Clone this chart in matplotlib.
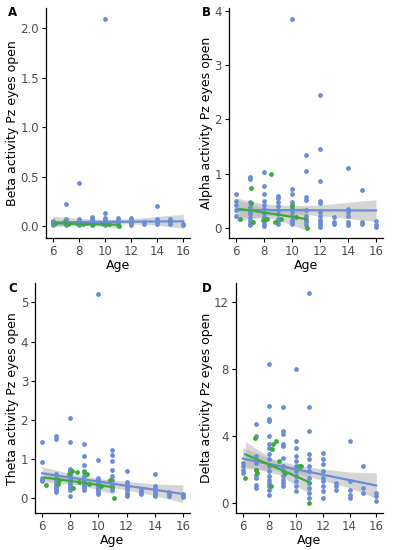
import numpy as np
import matplotlib
matplotlib.use("Agg")
import matplotlib.pyplot as plt

# ---------------------------
# DATA
# ---------------------------
# Panel A - Beta
beta_blue_age = [6]*5 + [7]*7 + [8]*7 + [9]*6 + [10]*8 + [11]*6 + [12]*5 + [13]*2 + [14]*4 + [15]*3 + [16]*2
beta_blue_val = [0.05, 0.04, 0.03, 0.02, 0.01,
                 0.22, 0.07, 0.05, 0.04, 0.03, 0.02, 0.01,
                 0.44, 0.07, 0.05, 0.04, 0.03, 0.02, 0.01,
                 0.09, 0.07, 0.05, 0.04, 0.02, 0.01,
                 2.09, 0.13, 0.08, 0.06, 0.05, 0.03, 0.02, 0.01,
                 0.08, 0.06, 0.04, 0.03, 0.02, 0.01,
                 0.08, 0.06, 0.04, 0.03, 0.01,
                 0.04, 0.02,
                 0.2, 0.07, 0.04, 0.02,
                 0.07, 0.04, 0.02,
                 0.02, 0.01]
beta_green_age = [6.2, 6.9, 7.2, 7.9, 8.3, 8.6, 9.1, 9.8, 10.3, 11.1]
beta_green_val = [0.03, 0.04, 0.02, 0.03, 0.02, 0.03, 0.02, 0.03, 0.02, 0.0]

# Panel B - Alpha
alpha_blue_age = [6]*5 + [7]*10 + [8]*11 + [9]*9 + [10]*11 + [11]*9 + [12]*11 + [13]*3 + [14]*6 + [15]*3 + [16]*3
alpha_blue_val = [0.63, 0.5, 0.42, 0.32, 0.22,
                  0.93, 0.9, 0.47, 0.38, 0.3, 0.25, 0.18, 0.12, 0.08, 0.05,
                  1.03, 0.78, 0.63, 0.5, 0.43, 0.35, 0.28, 0.2, 0.12, 0.07, 0.03,
                  0.58, 0.55, 0.47, 0.4, 0.33, 0.25, 0.17, 0.12, 0.08,
                  3.85, 0.71, 0.62, 0.48, 0.42, 0.35, 0.3, 0.22, 0.15, 0.1, 0.07,
                  1.35, 1.05, 0.57, 0.52, 0.33, 0.22, 0.15, 0.1, 0.05,
                  2.45, 1.46, 0.87, 0.5, 0.45, 0.3, 0.22, 0.15, 0.1, 0.05, 0.02,
                  0.2, 0.1, 0.07,
                  1.1, 0.35, 0.3, 0.22, 0.1, 0.05,
                  0.7, 0.1, 0.08,
                  0.13, 0.05, 0.02]
alpha_green_age = [6.3, 7.1, 7.1, 7.2, 7.9, 8.2, 8.5, 8.8, 9.2, 10.0, 10.3, 11.1]
alpha_green_val = [0.17, 0.74, 0.45, 0.1, 0.15, 0.17, 0.99, 0.1, 0.17, 0.4, 0.2, -0.01]

# Panel C - Theta
theta_blue_age = [6]*5 + [7]*10 + [8]*14 + [9]*11 + [10]*11 + [11]*10 + [12]*9 + [13]*3 + [14]*7 + [15]*3 + [16]*4
theta_blue_val = [1.43, 0.92, 0.5, 0.45, 0.42,
                  1.58, 1.5, 0.6, 0.5, 0.42, 0.35, 0.3, 0.25, 0.2, 0.15,
                  2.05, 1.43, 0.75, 0.7, 0.62, 0.55, 0.5, 0.45, 0.4, 0.35, 0.3, 0.25, 0.2, 0.05,
                  1.38, 1.07, 0.85, 0.7, 0.55, 0.45, 0.4, 0.35, 0.3, 0.25, 0.2,
                  5.22, 0.97, 0.5, 0.45, 0.4, 0.35, 0.3, 0.25, 0.2, 0.15, 0.1,
                  1.23, 1.1, 0.95, 0.72, 0.55, 0.45, 0.35, 0.3, 0.25, 0.2,
                  0.68, 0.4, 0.35, 0.3, 0.25, 0.2, 0.12, 0.08, 0.05,
                  0.2, 0.15, 0.1,
                  0.6, 0.3, 0.25, 0.2, 0.15, 0.1, 0.05,
                  0.15, 0.1, 0.05,
                  0.1, 0.07, 0.05, 0.03]
theta_green_age = [6.3, 7.1, 7.2, 7.9, 8.1, 8.2, 8.5, 8.6, 9.0, 9.2, 9.3, 10.2, 10.8, 11.1]
theta_green_val = [0.32, 0.35, 0.45, 0.6, 0.7, 0.25, 0.65, 0.4, 0.65, 0.62, 0.35, 0.3, 0.45, 0.0]

# Panel D - Delta
delta_blue_age = [6]*4 + [7]*9 + [8]*17 + [9]*12 + [10]*11 + [11]*12 + [12]*9 + [13]*3 + [14]*5 + [15]*3 + [16]*3
delta_blue_val = [2.4, 2.2, 2.0, 1.8,
                  4.7, 4.0, 2.8, 2.4, 2.0, 1.7, 1.5, 1.1, 0.9,
                  8.3, 5.8, 5.0, 4.9, 4.0, 3.5, 3.3, 2.9, 2.6, 2.2, 1.9, 1.6, 1.4, 1.2, 1.0, 0.8, 0.5,
                  5.7, 4.3, 4.1, 3.5, 3.4, 2.7, 2.2, 1.9, 1.6, 1.4, 1.2, 1.0,
                  8.0, 3.7, 3.3, 2.8, 2.5, 2.2, 1.9, 1.6, 1.3, 1.0, 0.7,
                  12.5, 5.7, 4.3, 2.9, 2.6, 2.2, 1.9, 1.5, 1.2, 0.9, 0.6, 0.3,
                  3.0, 2.6, 2.3, 1.9, 1.5, 1.3, 1.0, 0.7, 0.3,
                  1.2, 1.0, 0.8,
                  3.7, 1.3, 0.8, 0.5, 0.3,
                  2.2, 0.9, 0.6,
                  0.6, 0.4, 0.1]
delta_green_age = [6.2, 6.9, 7.0, 7.1, 8.1, 8.2, 8.3, 8.5, 8.7, 9.2, 10.2, 10.4, 11.0]
delta_green_val = [1.5, 3.9, 2.0, 1.8, 1.0, 3.2, 3.5, 3.7, 2.5, 1.8, 2.2, 2.2, 0.0]

# fitted lines and confidence bands
band_age_blue = [6, 8, 10, 12, 14, 16]
beta_fit_blue = [0.04, 0.042, 0.044, 0.046, 0.048, 0.05]
beta_lo_blue = [0.0, 0.015, 0.025, 0.025, 0.01, -0.02]
beta_hi_blue = [0.1, 0.08, 0.07, 0.075, 0.1, 0.12]
alpha_fit_blue = [0.33, 0.328, 0.326, 0.324, 0.322, 0.32]
alpha_lo_blue = [0.12, 0.22, 0.25, 0.23, 0.17, 0.12]
alpha_hi_blue = [0.55, 0.44, 0.41, 0.42, 0.47, 0.52]
theta_fit_blue = [0.63, 0.52, 0.42, 0.31, 0.21, 0.1]
theta_lo_blue = [0.47, 0.42, 0.33, 0.2, 0.06, -0.12]
theta_hi_blue = [0.8, 0.62, 0.5, 0.42, 0.36, 0.33]
delta_fit_blue = [2.65, 2.33, 2.01, 1.69, 1.37, 1.05]
delta_lo_blue = [2.05, 1.98, 1.75, 1.35, 0.9, 0.3]
delta_hi_blue = [3.3, 2.68, 2.27, 2.03, 1.85, 1.8]

band_age_green = [6.2, 8.7, 11.1]
beta_fit_green = [0.03, 0.022, 0.015]
beta_lo_green = [0.0, 0.01, -0.02]
beta_hi_green = [0.06, 0.035, 0.045]
alpha_fit_green = [0.35, 0.255, 0.16]
alpha_lo_green = [0.2, 0.17, -0.05]
alpha_hi_green = [0.5, 0.34, 0.38]
theta_fit_green = [0.52, 0.4, 0.27]
theta_lo_green = [0.4, 0.33, 0.1]
theta_hi_green = [0.65, 0.48, 0.45]
delta_fit_green = [2.9, 2.05, 1.2]
delta_lo_green = [2.2, 1.7, 0.5]
delta_hi_green = [3.65, 2.4, 1.9]

# ---------------------------
# PLOT
# ---------------------------
blue = "#6b8dd6"
green = "#3aaa3a"
band = "#b3b3b3"

W, H = 394, 550

panels = [
    ("A", (8, 13), "Beta activity Pz eyes open", beta_blue_age, beta_blue_val, beta_green_age, beta_green_val,
     beta_fit_blue, beta_lo_blue, beta_hi_blue, beta_fit_green, beta_lo_green, beta_hi_green,
     (-0.12, 2.2), [0.0, 0.5, 1.0, 1.5, 2.0], ["0.0", "0.5", "1.0", "1.5", "2.0"],
     [0.117, 0.567, 0.365, 0.418]),
    ("B", (202, 13), "Alpha activity Pz eyes open", alpha_blue_age, alpha_blue_val, alpha_green_age, alpha_green_val,
     alpha_fit_blue, alpha_lo_blue, alpha_hi_blue, alpha_fit_green, alpha_lo_green, alpha_hi_green,
     (-0.19, 4.05), [0, 1, 2, 3, 4], ["0", "1", "2", "3", "4"],
     [0.581, 0.567, 0.391, 0.418]),
    ("C", (8, 288), "Theta activity Pz eyes open", theta_blue_age, theta_blue_val, theta_green_age, theta_green_val,
     theta_fit_blue, theta_lo_blue, theta_hi_blue, theta_fit_green, theta_lo_green, theta_hi_green,
     (-0.39, 5.49), [0, 1, 2, 3, 4, 5], ["0", "1", "2", "3", "4", "5"],
     [0.089, 0.067, 0.393, 0.418]),
    ("D", (202, 288), "Delta activity Pz eyes open", delta_blue_age, delta_blue_val, delta_green_age, delta_green_val,
     delta_fit_blue, delta_lo_blue, delta_hi_blue, delta_fit_green, delta_lo_green, delta_hi_green,
     (-0.6, 13.1), [0, 4, 8, 12], ["0", "4", "8", "12"],
     [0.599, 0.067, 0.373, 0.418]),
]

fig = plt.figure(figsize=(W / 100, H / 100), dpi=100)

for (letter, lpos, ylabel, bx, by, gx, gy, bf, blo, bhi, gf, glo, ghi,
     ylim, yticks, yticklabels, pos) in panels:
    ax = fig.add_axes(pos)

    ax.fill_between(band_age_blue, blo, bhi, color=band, alpha=0.55, lw=0, zorder=1)
    ax.fill_between(band_age_green, glo, ghi, color=band, alpha=0.55, lw=0, zorder=1)

    ax.scatter(bx, by, s=12, color=blue, lw=0, zorder=2)
    ax.scatter(gx, gy, s=12, color=green, lw=0, zorder=3)

    ax.plot(band_age_blue, bf, color=blue, lw=1.6, zorder=4)
    ax.plot(band_age_green, gf, color=green, lw=1.6, zorder=5)

    ax.set_xlim(5.5, 16.5)
    ax.set_ylim(*ylim)
    ax.set_xticks([6, 8, 10, 12, 14, 16])
    ax.set_yticks(yticks)
    ax.set_yticklabels(yticklabels)
    ax.tick_params(labelsize=8.5, labelcolor="#4d4d4d", color="black",
                   length=3, width=0.8, pad=2)

    for s in ["top", "right"]:
        ax.spines[s].set_visible(False)
    for s in ["left", "bottom"]:
        ax.spines[s].set_linewidth(0.9)

    ax.set_xlabel("Age", fontsize=9, labelpad=1)
    ax.set_ylabel(ylabel, fontsize=9, labelpad=1)

    # panel letter
    fig.text(lpos[0] / W, 1 - lpos[1] / H, letter, fontsize=8.5,
             fontweight="bold", ha="left", va="center")

plt.savefig("out.png", dpi=100)
